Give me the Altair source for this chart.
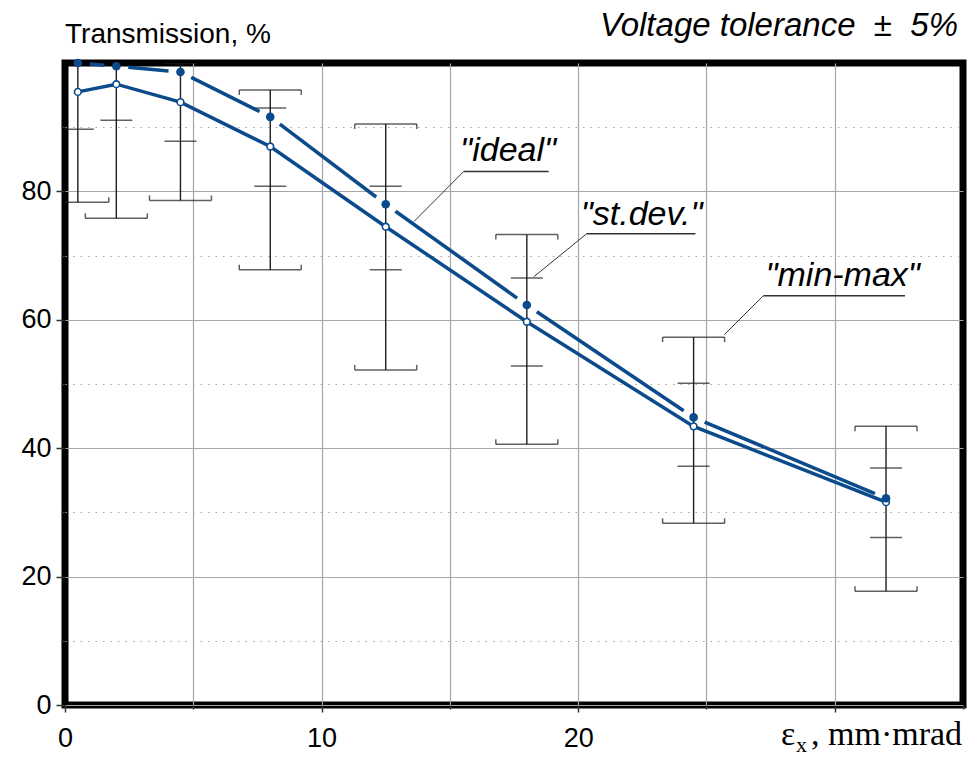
import altair as alt
import pandas as pd
import numpy as np

# ---- data ----
x_vals = [0.5, 2, 4.5, 8, 12.5, 18, 24.5, 32]
ideal = [100.0, 99.5, 98.6, 91.6, 78.0, 62.3, 44.8, 32.2]
mean = [95.5, 96.7, 93.9, 87.0, 74.5, 59.7, 43.4, 31.6]
sd_lo = [89.7, 91.1, 87.8, 80.8, 67.8, 52.8, 37.2, 26.1]
sd_hi = [101.3, 102.3, 100.0, 93.0, 80.8, 66.5, 50.1, 36.9]
mm_lo = [78.3, 75.8, 78.6, 67.8, 52.2, 40.6, 28.3, 17.7]
mm_hi = [108.0, 110.0, 106.0, 95.8, 90.5, 73.3, 57.3, 43.4]

y_tick_values = list(range(0, 100, 10))
x_tick_values = list(range(0, 40, 5))

ann_text = ['"ideal"', '"st.dev."', '"min-max"']
ann_x = [15.4, 20.1, 27.3]
ann_y = [84.8, 74.7, 65.2]
lead_x0 = [13.6, 18.27, 25.7]
lead_y0 = [75.3, 66.7, 57.7]
lead_x1 = [15.54, 20.33, 27.22]
lead_y1 = [83.1, 73.4, 63.75]
under_x2 = [18.85, 24.57, 32.74]

title_left = "Transmission, %"
title_right = "Voltage tolerance\u00a0\u00a0\u00b1\u00a0\u00a05%"
xtitle_parts = ["\u03b5", "x", ", mm\u00b7mrad"]

# ---- layout / style ----
W, H = 898, 642
BLUE = "#0b4a8b"
BAR = "#1e1e1e"

xs = alt.Scale(domain=[0, 35], nice=False, zero=False)
ys = alt.Scale(domain=[0, 100], nice=False, zero=False)

xax = alt.Axis(
    values=x_tick_values,
    labelExpr="(datum.value % 10 === 0 && datum.value <= 20) ? datum.label : ''",
    grid=True, gridColor="#a6a6a6", gridWidth=1.2,
    gridOpacity={"condition": {"test": "datum.value === 0 || datum.value === 35", "value": 0},
                 "value": 1},
    domain=False, ticks=True,
    tickSize={"condition": {"test": "datum.value % 10 === 0", "value": 7}, "value": 4},
    tickColor="#333", tickWidth=1.5, labelFlush=False,
    labelFont="Liberation Sans", labelFontSize=27, labelColor="black",
    labelPadding=13, title=None,
)
yax = alt.Axis(
    values=y_tick_values,
    labelExpr="datum.value % 20 === 0 ? datum.label : ''",
    grid=True, gridColor="#a6a6a6", gridWidth=1.2,
    gridDash={"condition": {"test": "datum.value % 20 === 0", "value": []}, "value": [1.5, 6]},
    domain=False, ticks=True,
    tickSize={"condition": {"test": "datum.value % 20 === 0", "value": 9}, "value": 4},
    tickColor="#333", tickWidth=1.5, labelFlush=False,
    labelFont="Liberation Sans", labelFontSize=27, labelColor="black",
    labelPadding=5, title=None,
)


def X(f):
    return alt.X(f, type="quantitative", scale=xs, axis=xax)


def Y(f):
    return alt.Y(f, type="quantitative", scale=ys, axis=yax)


pts = pd.DataFrame({"x": x_vals, "ideal": ideal, "mean": mean,
                    "sd_lo": sd_lo, "sd_hi": sd_hi, "mm_lo": mm_lo, "mm_hi": mm_hi})

# gapped segments of the "ideal" curve (gap of GAP px around each point)
GAP = 12.0
sxp, syp = W / 35.0, H / 100.0
seg = []
for i in range(len(x_vals) - 1):
    x1, y1, x2, y2 = x_vals[i], ideal[i], x_vals[i + 1], ideal[i + 1]
    L = np.hypot((x2 - x1) * sxp, (y2 - y1) * syp)
    f = GAP / L
    seg.append({"x": x1 + f * (x2 - x1), "y": y1 + f * (y2 - y1),
                "x2": x2 - f * (x2 - x1), "y2": y2 - f * (y2 - y1)})
seg = pd.DataFrame(seg)

base = alt.Chart(pts)

vbars = base.mark_rule(color=BAR, strokeWidth=1.4, clip=True).encode(
    x=X("x"), y=Y("mm_lo"), y2="mm_hi")


def cap(field, size):
    return base.mark_tick(orient="horizontal", color=BAR, size=size, thickness=1.5,
                          clip=True).encode(x=X("x"), y=Y(field))


def hook(field, dx, dy):
    return base.mark_tick(orient="vertical", color=BAR, size=5, thickness=1.5,
                          xOffset=dx, yOffset=dy, clip=True).encode(x=X("x"), y=Y(field))


caps = [cap("mm_lo", 62), cap("mm_hi", 62), cap("sd_lo", 32), cap("sd_hi", 32),
        hook("mm_lo", -31, -2.5), hook("mm_lo", 31, -2.5),
        hook("mm_hi", -31, 2.5), hook("mm_hi", 31, 2.5)]

mean_line = base.mark_line(color=BLUE, strokeWidth=3.5).encode(x=X("x"), y=Y("mean"))
mean_pts = base.mark_point(shape="circle", filled=True, fill="white", stroke=BLUE,
                           strokeWidth=1.6, size=45, opacity=1).encode(x=X("x"), y=Y("mean"))

ideal_seg = alt.Chart(seg).mark_rule(color=BLUE, strokeWidth=3.5, strokeCap="butt").encode(
    x=X("x"), y=Y("y"), x2="x2", y2="y2")
ideal_pts = base.mark_circle(color=BLUE, size=75, opacity=1, clip=False).encode(
    x=X("x"), y=Y("ideal"))

ann = pd.DataFrame({"t": ann_text, "x": ann_x, "y": ann_y,
                    "lx0": lead_x0, "ly0": lead_y0, "lx1": lead_x1, "ly1": lead_y1,
                    "ux2": under_x2})
ann_txt = alt.Chart(ann).mark_text(align="left", baseline="alphabetic", font="Liberation Sans",
                                   fontStyle="italic", fontSize=34, color="black").encode(
    x=X("x"), y=Y("y"), text="t:N")
ann_lead = alt.Chart(ann).mark_rule(color="#333", strokeWidth=1).encode(
    x=X("lx0"), y=Y("ly0"), x2="lx1", y2="ly1")
ann_under = alt.Chart(ann).mark_rule(color="#333", strokeWidth=1.3).encode(
    x=X("lx1"), y=Y("ly1"), x2="ux2", y2="ly1")

t_left = alt.Chart(pd.DataFrame({"t": [title_left]})).mark_text(
    align="left", baseline="alphabetic", font="Liberation Sans", fontSize=28, color="black"
).encode(x=alt.value(0), y=alt.value(-20), text="t:N")
t_right = alt.Chart(pd.DataFrame({"t": [title_right]})).mark_text(
    align="right", baseline="alphabetic", font="Liberation Sans", fontStyle="italic",
    fontSize=33, color="black"
).encode(x=alt.value(W - 5), y=alt.value(-27), text="t:N")

xt = pd.DataFrame({"t": xtitle_parts, "px": [716, 731, 746], "py": [682, 689, 682],
                   "fs": [34, 22, 34]})
x_title = alt.Chart(xt).mark_text(align="left", baseline="alphabetic",
                                  font="Liberation Serif", color="black").encode(
    x=alt.X("px:Q", scale=None), y=alt.Y("py:Q", scale=None), text="t:N",
    size=alt.Size("fs:Q", scale=None, legend=None))

chart = alt.layer(
    vbars, *caps, mean_line, mean_pts, ideal_seg, ideal_pts,
    ann_lead, ann_under, ann_txt, t_left, t_right, x_title
).properties(
    width=W, height=H, autosize="none", background="white",
    padding={"left": 65, "top": 63, "right": 11, "bottom": 53},
).configure_view(stroke="black", strokeWidth=7)

chart.save("out.html", embed_options={"renderer": "svg", "actions": False})
